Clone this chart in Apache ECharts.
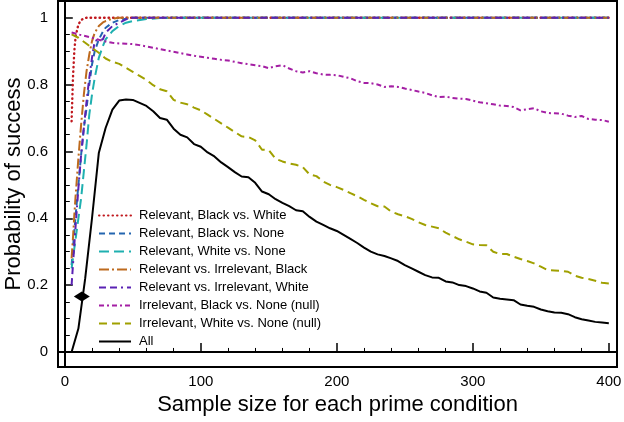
<!DOCTYPE html>
<html>
<head>
<meta charset="utf-8">
<script src="https://cdn.jsdelivr.net/npm/echarts@6/dist/echarts.min.js"></script>
<style>html,body{margin:0;padding:0;background:#fff}#c{width:624px;height:422px}</style>
</head>
<body>
<div id="c"></div>
<script>
// ---- data ----
const seriesNames = [
  'Relevant, Black vs. White',
  'Relevant, Black vs. None',
  'Relevant, White vs. None',
  'Relevant vs. Irrelevant, Black',
  'Relevant vs. Irrelevant, White',
  'Irrelevant, Black vs. None (null)',
  'Irrelevant, White vs. None (null)',
  'All'
];
const steepX   = [5, 6, 7, 8, 10, 12, 14, 16, 18, 20, 22, 25, 28, 30, 35, 40, 45, 50, 60, 70, 80, 400];
const relBW    = [0.69, 0.82, 0.90, 0.945, 0.98, 0.993, 0.998, 1, 1, 1, 1, 1, 1, 1, 1, 1, 1, 1, 1, 1, 1, 1];
const relBN    = [0.26, 0.31, 0.36, 0.41, 0.50, 0.59, 0.67, 0.73, 0.80, 0.86, 0.90, 0.935, 0.958, 0.97, 0.985, 0.993, 0.997, 1, 1, 1, 1, 1];
const relWN    = [0.25, 0.28, 0.31, 0.34, 0.40, 0.46, 0.54, 0.62, 0.71, 0.77, 0.82, 0.88, 0.915, 0.935, 0.96, 0.975, 0.985, 0.99, 0.996, 0.999, 1, 1];
const relIrrB  = [0.28, 0.34, 0.41, 0.47, 0.58, 0.68, 0.77, 0.84, 0.89, 0.93, 0.955, 0.975, 0.986, 0.99, 0.997, 1, 1, 1, 1, 1, 1, 1];
const relIrrW  = [0.20, 0.26, 0.32, 0.38, 0.49, 0.59, 0.67, 0.75, 0.82, 0.88, 0.93, 0.935, 0.935, 0.955, 0.975, 0.985, 0.995, 1, 1, 1, 1, 1];

const stepX = [5,10,15,20,25,30,35,40,45,50,55,60,65,70,75,80,85,90,95,100,105,110,115,120,125,130,135,140,145,150,155,160,165,170,175,180,185,190,195,200,205,210,215,220,225,230,235,240,245,250,255,260,265,270,275,280,285,290,295,300,305,310,315,320,325,330,335,340,345,350,355,360,365,370,375,380,385,390,395,400];
const irrBN = [0.956,0.95,0.945,0.94,0.934,0.929,0.925,0.923,0.922,0.921,0.918,0.914,0.91,0.906,0.902,0.898,0.894,0.89,0.886,0.883,0.88,0.877,0.874,0.872,0.868,0.864,0.861,0.858,0.855,0.849,0.855,0.858,0.848,0.84,0.836,0.84,0.834,0.83,0.829,0.828,0.823,0.819,0.81,0.805,0.804,0.8,0.793,0.795,0.793,0.788,0.784,0.779,0.775,0.768,0.763,0.764,0.76,0.758,0.757,0.752,0.747,0.744,0.741,0.737,0.736,0.733,0.723,0.726,0.729,0.72,0.715,0.714,0.713,0.707,0.703,0.706,0.697,0.695,0.694,0.689];
const irrWN = [0.95,0.94,0.925,0.91,0.895,0.878,0.868,0.862,0.85,0.838,0.826,0.814,0.798,0.786,0.78,0.754,0.746,0.741,0.731,0.723,0.71,0.697,0.684,0.671,0.658,0.645,0.643,0.633,0.605,0.604,0.578,0.57,0.564,0.56,0.553,0.531,0.526,0.51,0.5,0.493,0.485,0.475,0.466,0.455,0.445,0.436,0.435,0.42,0.412,0.406,0.398,0.388,0.38,0.375,0.37,0.357,0.347,0.337,0.33,0.322,0.32,0.319,0.3,0.293,0.293,0.285,0.278,0.272,0.265,0.255,0.245,0.244,0.243,0.24,0.228,0.222,0.218,0.213,0.207,0.205];
const allP  = [0.0,0.07,0.22,0.40,0.595,0.67,0.725,0.752,0.755,0.754,0.745,0.736,0.72,0.70,0.695,0.668,0.65,0.642,0.622,0.614,0.597,0.585,0.567,0.553,0.538,0.525,0.523,0.506,0.48,0.472,0.457,0.446,0.436,0.424,0.421,0.404,0.39,0.38,0.37,0.362,0.35,0.338,0.326,0.312,0.30,0.292,0.287,0.28,0.272,0.26,0.25,0.24,0.23,0.223,0.222,0.211,0.208,0.2,0.197,0.19,0.181,0.177,0.163,0.159,0.157,0.155,0.142,0.138,0.135,0.127,0.122,0.118,0.117,0.113,0.104,0.098,0.094,0.09,0.088,0.086];
const marker = [[12.5, 0.166]];

const xMajor = [0, 100, 200, 300, 400];
const xMinor = [20, 40, 60, 80, 120, 140, 160, 180, 220, 240, 260, 280, 320, 340, 360, 380];
const yMajor = [0, 0.2, 0.4, 0.6, 0.8, 1];
const yMinor = [0.05, 0.1, 0.15, 0.25, 0.3, 0.35, 0.45, 0.5, 0.55, 0.65, 0.7, 0.75, 0.85, 0.9, 0.95];

// ---- styles ----
const colors = ['#c0181e', '#2466b0', '#1fb0b0', '#bd6a1e', '#5a22b4', '#a41fa4', '#a0a000', '#000000'];
const dashes = [[0.5, 4], [6, 4], [10, 5], [10, 3, 2, 3], [7, 4, 7, 4, 2, 4], [5, 3, 2, 3], [8, 5], 'solid'];
const xsets = [steepX, steepX, steepX, steepX, steepX, stepX, stepX, stepX];
const ysets = [relBW, relBN, relWN, relIrrB, relIrrW, irrBN, irrWN, allP];

const font = 'Liberation Sans, Arial, Helvetica, sans-serif';
const series = seriesNames.map((name, i) => ({
  name: name,
  type: 'line',
  xAxisIndex: 0, yAxisIndex: 0,
  data: xsets[i].map((x, k) => [x, ysets[i][k]]),
  symbol: 'none',
  showSymbol: false,
  color: colors[i],
  lineStyle: { color: colors[i], width: i === 0 ? 2.4 : 2, type: dashes[i], cap: i === 0 ? 'round' : 'butt' },
  z: 2 + i
}));
series.push({
  name: 'marker', type: 'scatter', data: marker, symbol: 'diamond', symbolSize: [16, 10],
  itemStyle: { color: '#000', opacity: 1 }, z: 20
});

const chart = echarts.init(document.getElementById('c'), null, { renderer: 'canvas' });
chart.setOption({
  animation: false,
  backgroundColor: '#fff',
  grid: { left: 58, right: 7, top: 1, bottom: 55, show: true, borderColor: '#000', borderWidth: 2, backgroundColor: 'transparent', containLabel: false, outerBoundsMode: 'none' },
  legend: {
    data: seriesNames,
    orient: 'vertical', left: 98, top: 209, padding: 0,
    itemWidth: 32, itemHeight: 14, itemGap: 5,
    itemStyle: { opacity: 0 },
    textStyle: { fontSize: 13, color: '#000', fontFamily: font, padding: [0, 0, 0, 3] }
  },
  xAxis: [
    {
      type: 'value', min: -5, max: 406, position: 'bottom',
      name: 'Sample size for each prime condition', nameLocation: 'middle', nameGap: 27, nameMoveOverlap: false,
      nameTextStyle: { fontSize: 22, color: '#000', fontFamily: font },
      axisLine: { show: true, lineStyle: { color: '#000', width: 2 } },
      axisTick: { show: true, inside: true, length: 9, customValues: xMajor, lineStyle: { color: '#000', width: 1.5 } },
      axisLabel: { show: true, customValues: xMajor, fontSize: 15, color: '#000', fontFamily: font, margin: 7 },
      splitLine: { show: false }
    },
    {
      type: 'value', min: -5, max: 406, position: 'bottom', offset: 0,
      axisLine: { show: false },
      axisTick: { show: true, inside: true, length: 4, customValues: xMinor, lineStyle: { color: '#000', width: 1 } },
      axisLabel: { show: false },
      splitLine: { show: false }
    }
  ],
  yAxis: [
    {
      type: 'value', min: -0.045, max: 1.05, position: 'left',
      name: 'Probability of success', nameLocation: 'middle', nameGap: 33, nameMoveOverlap: false,
      nameTextStyle: { fontSize: 22, color: '#000', fontFamily: font },
      axisLine: { show: true, lineStyle: { color: '#000', width: 2 } },
      axisTick: { show: true, inside: true, length: 8, customValues: yMajor, lineStyle: { color: '#000', width: 1.5 } },
      axisLabel: { show: true, customValues: yMajor, fontSize: 15, color: '#000', fontFamily: font, margin: 10 },
      splitLine: { show: false }
    },
    {
      type: 'value', min: -0.045, max: 1.05, position: 'left', offset: 0,
      axisLine: { show: false },
      axisTick: { show: true, inside: true, length: 5, customValues: yMinor, lineStyle: { color: '#000', width: 1 } },
      axisLabel: { show: false },
      splitLine: { show: false }
    }
  ],
  series: series
});
</script>
</body>
</html>
